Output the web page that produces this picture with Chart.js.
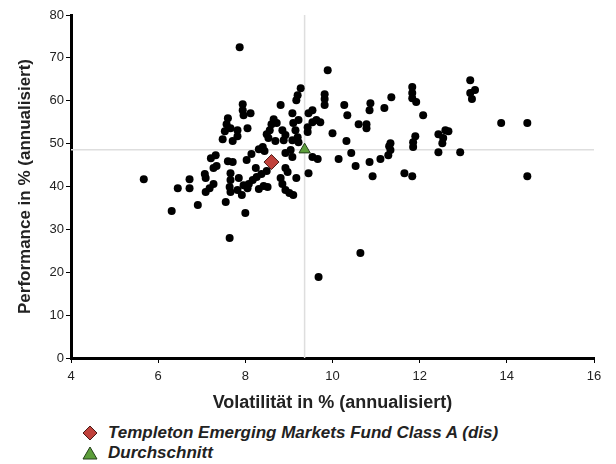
<!DOCTYPE html>
<html>
<head>
<meta charset="utf-8">
<title>Risiko / Ertrag</title>
<script src="https://cdn.jsdelivr.net/npm/chart.js@4.4.0/dist/chart.umd.min.js"></script>
<style>
  body { margin: 0; background: #fff; font-family: "Liberation Sans", Arial, sans-serif; }
  #wrap { position: relative; width: 616px; height: 464px; }
  #legend { position: absolute; left: 82px; top: 423px; font-style: italic; font-weight: bold; font-size: 17px; color: #222; }
  .item { height: 20px; display: flex; align-items: center; }
  .item svg { margin-right: 10px; }
</style>
</head>
<body>
<div id="wrap">
  <canvas id="riskChart" width="616" height="418"></canvas>
  <div id="legend"></div>
</div>
<script>
// peer group funds (volatility %, performance %)
const peerX = [5.67, 6.31, 6.45, 6.72, 6.72, 6.91, 7.07, 7.09, 7.27, 7.18, 7.09, 7.21, 7.32, 7.27, 7.34, 7.55, 7.64, 8.0,
  7.48, 7.71, 7.82, 7.6, 7.57, 7.66, 7.53, 7.6, 7.71, 7.66, 7.66, 7.64, 7.66, 7.85, 7.82, 7.92, 8.05, 7.96,
  7.94, 7.94, 7.96, 8.12, 8.05, 7.82, 8.81, 9.08, 9.22, 8.65, 8.72, 8.6, 8.56, 8.49, 8.53, 8.69, 8.85, 8.92,
  8.88, 9.15, 9.2, 9.22, 9.1, 9.08, 8.31, 8.44, 8.14, 8.03, 8.92, 9.04, 9.08, 8.24, 8.92, 8.97, 8.08, 8.17,
  8.26, 8.37, 8.49, 8.81, 8.85, 8.92, 9.01, 9.1, 9.17, 8.31, 8.42, 8.51, 9.27, 9.2, 9.17, 9.45, 9.54, 9.66,
  9.89, 9.82, 9.82, 9.82, 9.54, 9.45, 9.54, 9.72, 9.63, 9.43, 9.43, 10.0, 10.27, 10.34, 10.6, 10.78, 10.78, 10.87,
  10.85, 11.19, 11.35, 10.32, 10.43, 10.14, 10.53, 10.85, 10.92, 11.1, 11.28, 11.33, 11.33, 11.3, 11.65, 11.83,
  9.68, 10.64, 11.83, 11.83, 11.83, 11.92, 12.08, 11.9, 11.85, 11.85, 12.43, 12.59, 12.66, 12.54, 12.52, 12.43,
  12.93, 13.16, 13.27, 13.16, 13.2, 13.87, 14.47, 14.47, 7.87, 8.4];
const peerY = [41.7, 34.3, 39.6, 41.7, 39.6, 35.7, 42.9, 42.0, 40.6, 39.6, 38.7, 46.6, 47.3, 44.3, 44.8, 36.4, 28.0, 33.8,
  51.0, 50.6, 51.7, 55.9, 54.5, 53.6, 52.9, 45.9, 45.7, 43.1, 41.5, 39.9, 38.7, 42.0, 39.2, 38.0, 39.6, 40.3,
  59.2, 57.8, 56.6, 57.1, 53.6, 53.1, 59.0, 57.1, 55.5, 55.7, 54.8, 54.5, 53.1, 52.2, 51.3, 50.6, 53.1, 52.0,
  50.8, 53.1, 51.5, 50.3, 54.8, 50.8, 48.7, 48.3, 47.6, 46.2, 47.8, 48.5, 46.9, 44.3, 44.3, 43.4, 40.6, 41.5,
  42.2, 42.9, 43.6, 42.0, 40.6, 39.2, 38.5, 38.0, 42.0, 39.4, 40.1, 39.9, 62.9, 61.3, 60.1, 43.1, 46.9, 46.4,
  67.1, 61.5, 60.4, 59.0, 57.8, 57.1, 55.0, 55.0, 55.5, 53.8, 52.7, 52.4, 59.0, 56.6, 54.5, 54.5, 53.6, 59.4,
  57.8, 58.3, 60.8, 50.6, 47.8, 46.4, 44.8, 45.7, 42.4, 46.4, 47.3, 48.5, 50.1, 49.4, 43.1, 42.4,
  18.9, 24.5, 63.2, 61.8, 60.6, 59.7, 56.6, 51.7, 50.3, 49.2, 52.2, 53.1, 52.9, 51.3, 50.1, 48.0,
  48.0, 64.8, 62.5, 61.8, 60.4, 54.8, 54.8, 42.4, 72.5, 49.2];

const fundName = "Templeton Emerging Markets Fund Class A (dis)";
const fundX = [8.6];
const fundY = [45.7];

const avgName = "Durchschnitt";
const avgX = [9.36];
const avgY = [48.6];

const xTicks = [4, 6, 8, 10, 12, 14, 16];
const yTicks = [0, 10, 20, 30, 40, 50, 60, 70, 80];

const toPoints = (xs, ys) => xs.map((x, i) => ({ x: x, y: ys[i] }));

const fundColor = "#c0413b";
const avgColor = "#5c9e3a";

// crosshair through the average
const vLine = [{ x: avgX[0], y: yTicks[0] }, { x: avgX[0], y: yTicks[yTicks.length - 1] }];
const hLine = [{ x: xTicks[0], y: avgY[0] }, { x: xTicks[xTicks.length - 1], y: avgY[0] }];

const fam = "'Liberation Sans', Arial, sans-serif";
const axisFont = { family: fam, size: 13 };

new Chart("riskChart", {
  type: "scatter",
  data: {
    datasets: [
      { label: fundName, data: toPoints(fundX, fundY), pointStyle: "rectRot", pointRadius: 7.5,
        backgroundColor: fundColor, borderColor: "#4a1a16", borderWidth: 1, order: 0 },
      { label: avgName, data: toPoints(avgX, avgY), pointStyle: "triangle", pointRadius: 6.5,
        backgroundColor: avgColor, borderColor: "#24401a", borderWidth: 1, order: 1 },
      { label: "peers", data: toPoints(peerX, peerY), pointRadius: 4,
        backgroundColor: "#000", borderWidth: 0, order: 2 },
      { type: "line", label: "v", data: vLine, borderColor: "#dedede", borderWidth: 1.5,
        pointRadius: 0, fill: false, order: 3 },
      { type: "line", label: "h", data: hLine, borderColor: "#dedede", borderWidth: 1.5,
        pointRadius: 0, fill: false, order: 3 }
    ]
  },
  options: {
    responsive: false,
    animation: false,
    devicePixelRatio: 1,
    events: [],
    layout: { padding: { left: 11, top: 15, right: 22, bottom: 0 } },
    plugins: { legend: { display: false }, tooltip: { enabled: false } },
    scales: {
      x: {
        type: "linear", min: xTicks[0], max: xTicks[xTicks.length - 1],
        afterBuildTicks: s => { s.ticks = xTicks.map(v => ({ value: v })); },
        afterFit: s => { s.height = 60; },
        border: { color: "#000", width: 3 },
        grid: { drawOnChartArea: false, drawTicks: true, tickLength: 5, color: "#000" },
        ticks: { color: "#222", font: axisFont, padding: 6 },
        title: { display: true, text: "Volatilität in % (annualisiert)", color: "#222",
                 font: { family: fam, size: 18, weight: "bold" } }
      },
      y: {
        type: "linear", min: yTicks[0], max: yTicks[yTicks.length - 1],
        afterBuildTicks: s => { s.ticks = yTicks.map(v => ({ value: v })); },
        afterFit: s => { s.width = 60; },
        border: { color: "#000", width: 3 },
        grid: { drawOnChartArea: false, drawTicks: true, tickLength: 5, color: "#000" },
        ticks: { color: "#222", font: axisFont, padding: 2 },
        title: { display: true, text: "Performance in % (annualisiert)", color: "#222",
                 font: { family: fam, size: 17, weight: "bold" } }
      }
    }
  }
});

// legend below the chart
const legend = document.getElementById("legend");
const legendItems = [
  { text: fundName, shape: '<polygon points="8,1 15,8 8,15 1,8" fill="' + fundColor + '" stroke="#4a1a16"/>' },
  { text: avgName, shape: '<polygon points="8,2 15,14 1,14" fill="' + avgColor + '" stroke="#24401a"/>' }
];
legendItems.forEach(function(it) {
  const row = document.createElement("div");
  row.className = "item";
  row.innerHTML = '<svg width="16" height="16">' + it.shape + '</svg><span>' + it.text + '</span>';
  legend.appendChild(row);
});
</script>
</body>
</html>
